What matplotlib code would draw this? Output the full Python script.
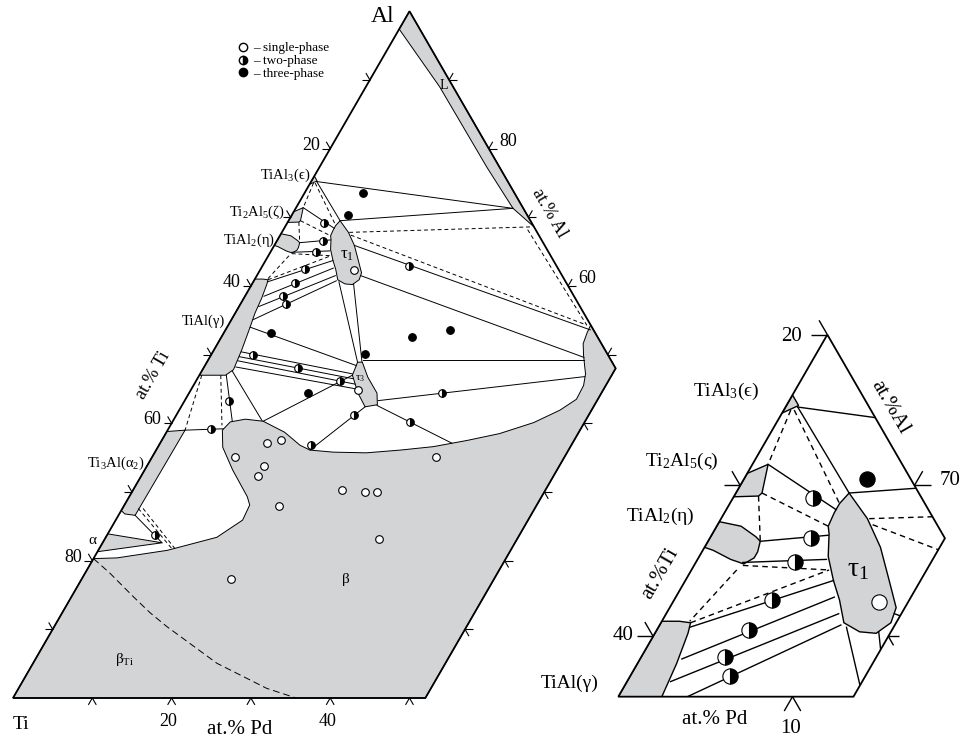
import numpy as np
import matplotlib
matplotlib.use("Agg")
import matplotlib.pyplot as plt
from matplotlib.patches import Polygon
from matplotlib.lines import Line2D

plt.rcParams["font.family"] = ["Liberation Serif", "DejaVu Serif"]
plt.rcParams["mathtext.fontset"] = "custom"
plt.rcParams["mathtext.rm"] = "Liberation Serif"
plt.rcParams["mathtext.it"] = "Liberation Serif:italic"

GREY = "#d3d4d6"
H = np.sqrt(3) / 2

# every point is (at.% Pd, at.% Al); Ti is the balance
outline_main = [(0, 0), (0, 100), (52, 48), (52, 0)]
outline_zoom = [(0, 56), (0, 80), (13.5, 66.5), (13.5, 56)]

phase_L = [(0, 100), (0, 97.4), (9.3, 89.0), (21.1, 77.3), (27.4, 71.3), (31.4, 68.6)]
phase_eps = [(0, 76.0), (0.7, 75.3), (0, 74.8)]
phase_zeta = [(0, 70.8), (0.9, 71.4), (1.5, 69.5), (1.4, 69.3), (0, 69.25)]
phase_eta = [(0, 67.6), (1.4, 67.3), (2.6, 66.6), (3.0, 66.3), (3.2, 65.6), (3.2, 65.2),
             (2.8, 64.8), (1.9, 65.1), (0.6, 65.7), (0, 65.9)]
phase_gamma = [(0, 61.0), (1.0, 61.0), (1.7, 60.9), (1.9, 60.2), (2.25, 58.2), (2.5, 56.0),
               (2.9, 54.0), (3.5, 50.7), (3.9, 47.8), (3.3, 47.0), (0, 47.0)]
phase_alpha2 = [(0, 38.8), (2.2, 39.0), (2.1, 26.6), (0.7, 26.8), (0, 27.3)]
phase_alpha = [(0, 23.9), (7.5, 22.6), (0, 21.3)]
phase_tau1 = [(6.5, 69.5), (8.4, 67.8), (10.1, 65.9), (11.7, 63.7), (13.0, 61.9), (13.2, 60.9),
              (12.7, 60.2), (11.7, 60.3), (10.5, 60.9), (9.5, 62.4), (8.5, 63.7), (7.4, 65.3),
              (6.7, 66.8), (6.4, 67.3), (6.3, 68.2), (6.3, 68.8)]
phase_tau3 = [(19.0, 48.9), (19.3, 47.0), (21.3, 44.4), (23.2, 42.4), (24.6, 42.7),
              (23.7, 44.4), (21.4, 46.7), (19.6, 48.9)]
phase_beta = [(0, 20.3), (2.9, 20.4), (8.7, 21.5), (14.0, 23.4), (16.0, 25.9), (15.8, 28.1),
              (14.9, 29.3), (11.1, 33.2), (8.2, 36.5), (6.9, 39.0), (7.3, 40.2), (9.0, 40.6),
              (11.4, 40.3), (14.9, 38.7), (17.8, 36.8), (19.4, 36.1), (22.5, 35.8), (26.7, 35.7),
              (30.8, 36.1), (34.7, 36.6), (38.5, 37.5), (42.1, 38.5), (45.6, 40.1), (48.0, 41.9),
              (49.3, 43.5), (49.2, 45.5), (48.6, 47.2), (48.0, 48.2), (47.0, 49.9), (46.1, 51.6),
              (45.8, 53.2), (45.7, 54.3), (52, 48), (52, 0), (0, 0)]
phases = [phase_beta, phase_L, phase_eps, phase_zeta, phase_eta, phase_gamma,
          phase_alpha2, phase_alpha, phase_tau1, phase_tau3]

beta_ti_border = [(0, 20.3), (3.1, 18.2), (7.8, 14.75), (11.1, 12.4), (14.2, 10.4),
                  (23.2, 5.05), (31.3, 1.4), (35.7, 0)]

tie_solid = [
    [(0.7, 75.2), (27.4, 71.3)], [(6.5, 69.5), (27.4, 71.3)], [(0.7, 75.2), (6.5, 69.5)],
    [(0.9, 71.4), (6.3, 68.4)], [(3.0, 66.3), (6.7, 66.7)], [(2.7, 64.9), (7.4, 65.1)],
    [(1.8, 60.6), (8.5, 63.7)], [(2.4, 58.5), (9.1, 62.6)], [(2.5, 57.0), (9.9, 61.5)],
    [(2.75, 55.1), (10.4, 60.75)],
    [(10.8, 60.6), (19.0, 48.9)], [(12.8, 60.3), (19.5, 49.0)], [(19.5, 49.2), (47.4, 49.2)],
    [(13.1, 61.5), (47.2, 49.6)], [(24.4, 43.3), (48.7, 46.8)], [(24.6, 42.6), (36.8, 37.1)],
    [(23.2, 42.4), (19.4, 36.1)], [(19.3, 47.0), (11.4, 40.3)], [(3.85, 47.6), (11.2, 40.4)],
    [(2.9, 54.0), (19.1, 48.4)], [(3.6, 50.4), (19.2, 47.2)], [(3.7, 49.7), (19.6, 46.5)],
    [(3.8, 49.1), (20.3, 45.7)], [(4.0, 48.2), (20.8, 45.0)], [(3.4, 47.0), (7.5, 40.3)],
    [(2.2, 39.0), (6.9, 39.2)], [(2.1, 26.6), (7.5, 22.6)],
]
tie_solid_main = [[(10.1, 65.9), (46.0, 53.6)]]
tie_dashed = [
    [(0.4, 75.0), (0.9, 71.4)], [(0.6, 75.0), (6.3, 68.8)], [(1.5, 69.5), (6.4, 67.3)],
    [(1.4, 69.3), (3.0, 66.3)], [(2.8, 64.7), (7.9, 64.4)], [(2.6, 64.4), (1.6, 61.0)],
    [(1.7, 60.9), (7.9, 64.4)], [(8.5, 67.8), (31.0, 68.6)], [(8.9, 67.4), (45.2, 54.3)],
    [(30.8, 68.2), (45.2, 54.3)], [(0.3, 47.0), (2.2, 39.0)], [(2.7, 47.0), (6.5, 39.7)],
    [(2.0, 27.6), (9.4, 21.55)], [(2.6, 27.6), (9.9, 21.45)],
]

single_phase = [(13.4, 37.2), (15.0, 37.6), (10.5, 35.1), (14.8, 33.8), (14.8, 32.3),
                (19.6, 27.9), (26.4, 30.3), (29.4, 30.0), (30.9, 30.0), (35.8, 35.1),
                (34.6, 23.1), (18.8, 17.3), (11.8, 62.3), (21.1, 44.8)]
two_phase = [(4.6, 69.2), (5.8, 66.5), (5.7, 64.9), (5.6, 62.4), (5.3, 60.4), (4.8, 58.6),
             (5.7, 57.4), (5.3, 49.9), (11.9, 48.0), (18.2, 46.1), (18.5, 62.9), (31.9, 44.4),
             (30.0, 40.2), (22.4, 41.2), (19.2, 36.8), (5.65, 43.2), (5.4, 39.1), (6.0, 23.8)]
three_phase = [(7.4, 73.5), (7.1, 70.4), (24.0, 52.6), (28.3, 53.6), (19.4, 50.1),
               (5.9, 53.2), (15.0, 44.4)]

# tick positions on each edge of both sections
ticks_left = [(0, a) for a in range(10, 100, 10)]
ticks_right = [(100 - a, a) for a in (50, 60, 70, 80, 90)]
ticks_bottom = [(p, 0) for p in (10, 20, 30, 40, 50)]
ticks_cut = [(52, a) for a in (10, 20, 30, 40)]
zoom_ticks_left = [(0, 80), (0, 70), (0, 60)]
zoom_ticks_right = [(10, 70)]
zoom_ticks_bottom = [(10, 56)]
zoom_ticks_cut = [(13.5, 60)]


def tern(pts):
    a = np.asarray(pts, dtype=float)
    return np.column_stack([a[:, 0] + a[:, 1] / 2, a[:, 1] * H])


def draw_section(ax, lw, ms, clip=None):
    arts = []
    for pts in phases:
        arts.append(ax.add_patch(Polygon(tern(pts), closed=True, fc=GREY, ec="black",
                                         lw=lw, zorder=1)))
    for seg in tie_solid:
        xy = tern(seg)
        arts += ax.plot(xy[:, 0], xy[:, 1], color="black", lw=lw, zorder=2)
    for seg in tie_dashed:
        xy = tern(seg)
        arts += ax.plot(xy[:, 0], xy[:, 1], color="black", lw=lw, ls=(0, (4, 3)), zorder=2)
    xy = tern(single_phase)
    arts += ax.plot(xy[:, 0], xy[:, 1], "o", ms=ms, mfc="white", mec="black", mew=0.8, zorder=3)
    xy = tern(two_phase)
    arts += ax.plot(xy[:, 0], xy[:, 1], "o", ms=ms, fillstyle="right", mfc="black",
                    mfcalt="white", mec="black", mew=0.8, zorder=3)
    xy = tern(three_phase)
    arts += ax.plot(xy[:, 0], xy[:, 1], "o", ms=ms, mfc="black", mec="black", mew=0.8, zorder=3)
    if clip is not None:
        for a in arts:
            a.set_clip_path(clip)


def draw_ticks(ax, pts, angles, length, lw):
    for x, y in tern(pts):
        for ang in angles:
            r = np.deg2rad(ang)
            ax.plot([x, x + length * np.cos(r)], [y, y + length * np.sin(r)],
                    color="black", lw=lw, solid_capstyle="butt")


fig = plt.figure(figsize=(9.6, 7.4), dpi=100)

# ---- full section ----
ax = fig.add_axes([0, 0, 1, 1])
ax.set_xlim(-13 / 7.93, 947 / 7.93)
ax.set_ylim(-42 / 7.93, 698 / 7.93)
ax.axis("off")

draw_section(ax, lw=0.7, ms=5.5)
for seg in tie_solid_main:
    xy = tern(seg)
    ax.plot(xy[:, 0], xy[:, 1], color="black", lw=0.7, zorder=2)
xy = tern(beta_ti_border)
ax.plot(xy[:, 0], xy[:, 1], color="black", lw=0.7, ls=(0, (7, 4)), zorder=2)
ax.add_patch(Polygon(tern(outline_main), closed=True, fill=False, ec="black", lw=1.3, zorder=4))

draw_ticks(ax, ticks_left, (180, 120), 1.0, 0.8)
draw_ticks(ax, ticks_right, (0, 60), 1.0, 0.8)
draw_ticks(ax, ticks_bottom, (240, 300), 1.0, 0.8)
draw_ticks(ax, ticks_cut, (0, 300), 1.0, 0.8)

for ti in (20, 40, 60, 80):
    x, y = tern([(0, 100 - ti)])[0]
    ax.text(x - 1.26, y + 0.44, str(ti), ha="right", va="center", fontsize=13)
for al in (80, 60):
    x, y = tern([(100 - al, al)])[0]
    ax.text(x + 1.32, y + 0.9, str(al), ha="left", va="center", fontsize=13)
for pd in (20, 40):
    x, y = tern([(pd, 0)])[0]
    ax.text(x - 0.38, y - 3.0, str(pd), ha="center", va="center", fontsize=13)

ax.text(46.66, 85.9, "Al", ha="center", va="center", fontsize=17)
ax.text(1.0, -3.4, "Ti", ha="center", va="center", fontsize=14)
ax.text(28.6, -4.0, "at.% Pd", ha="center", va="center", fontsize=15)
ax.text(67.7, 61.2, "at.% Al", ha="center", va="center", fontsize=13, rotation=-60)
ax.text(17.65, 40.7, "at.% Ti", ha="center", va="center", fontsize=13, rotation=60)
ax.text(37.45, 65.95, "TiAl$_3$(ϵ)", ha="right", va="center", fontsize=10.5)
ax.text(34.3, 61.3, "Ti$_2$Al$_5$(ζ)", ha="right", va="center", fontsize=10.5)
ax.text(33.0, 57.75, "TiAl$_2$(η)", ha="right", va="center", fontsize=10.5)
ax.text(26.7, 47.45, "TiAl(γ)", ha="right", va="center", fontsize=10.5)
ax.text(16.65, 29.6, "Ti$_3$Al(α$_2$)", ha="right", va="center", fontsize=10.5)
ax.text(9.96, 19.9, "α", ha="center", va="center", fontsize=11)
ax.text(54.35, 77.2, "L", ha="center", va="center", fontsize=10)
ax.text(42.1, 55.9, "τ$_1$", ha="center", va="center", fontsize=12)
ax.text(43.76, 40.3, "τ$_3$", ha="center", va="center", fontsize=8)
ax.text(42.0, 14.9, "β", ha="center", va="center", fontsize=11)
ax.text(14.1, 4.8, "β$_{\\mathrm{Ti}}$", ha="center", va="center", fontsize=11)

handles = [
    Line2D([], [], ls="", marker="o", ms=6, mfc="white", mec="black"),
    Line2D([], [], ls="", marker="o", ms=6, fillstyle="right", mfc="black",
           mfcalt="white", mec="black"),
    Line2D([], [], ls="", marker="o", ms=6, mfc="black", mec="black"),
]
fig.legend(handles, ["– single-phase", "– two-phase", "– three-phase"],
           loc="upper left", bbox_to_anchor=(236 / 960, 1 - 42 / 740), frameon=False,
           fontsize=9.5, handlelength=1.0, handletextpad=0.3, labelspacing=0.05,
           borderpad=0, borderaxespad=0)

# ---- enlarged Al-rich corner ----
ax2 = fig.add_axes([600 / 960, 0, 360 / 960, 440 / 740])
ax2.set_xlim(26.95, 47.615)
ax2.set_ylim(46.01, 71.27)
ax2.axis("off")
ax2.patch.set_alpha(0)

clip = Polygon(tern(outline_zoom), closed=True, transform=ax2.transData)
draw_section(ax2, lw=1.0, ms=11, clip=clip)
ax2.add_patch(Polygon(tern(outline_zoom), closed=True, fill=False, ec="black", lw=1.3, zorder=4))

draw_ticks(ax2, zoom_ticks_left, (180, 120), 0.95, 1.0)
draw_ticks(ax2, zoom_ticks_right, (0, 60), 0.95, 1.0)
draw_ticks(ax2, zoom_ticks_bottom, (240, 300), 0.95, 1.0)
draw_ticks(ax2, zoom_ticks_cut, (0, 300), 0.6, 1.0)

x, y = tern([(0, 80)])[0]
ax2.text(x - 1.44, y - 0.1, "20", ha="right", va="center", fontsize=15)
x, y = tern([(0, 60)])[0]
ax2.text(x - 1.15, y + 0.07, "40", ha="right", va="center", fontsize=15)
x, y = tern([(10, 70)])[0]
ax2.text(x + 1.47, y + 0.29, "70", ha="left", va="center", fontsize=15)
x, y = tern([(10, 56)])[0]
ax2.text(x - 0.14, y - 1.81, "10", ha="center", va="center", fontsize=15)

ax2.text(33.55, 47.16, "at.% Pd", ha="center", va="center", fontsize=15)
ax2.text(30.39, 55.58, "at.%Ti", ha="center", va="center", fontsize=15, rotation=60)
ax2.text(43.6, 65.14, "at.%Al", ha="center", va="center", fontsize=15, rotation=-60)
ax2.text(34.22, 66.0, "TiAl$_3$(ϵ)", ha="center", va="center", fontsize=14)
ax2.text(31.64, 61.99, "Ti$_2$Al$_5$(ς)", ha="center", va="center", fontsize=14)
ax2.text(30.39, 58.83, "TiAl$_2$(η)", ha="center", va="center", fontsize=14)
ax2.text(25.23, 49.27, "TiAl(γ)", ha="center", va="center", fontsize=14)
ax2.text(41.78, 55.77, "τ$_1$", ha="center", va="center", fontsize=20)

fig.savefig("out.png", dpi=100)
